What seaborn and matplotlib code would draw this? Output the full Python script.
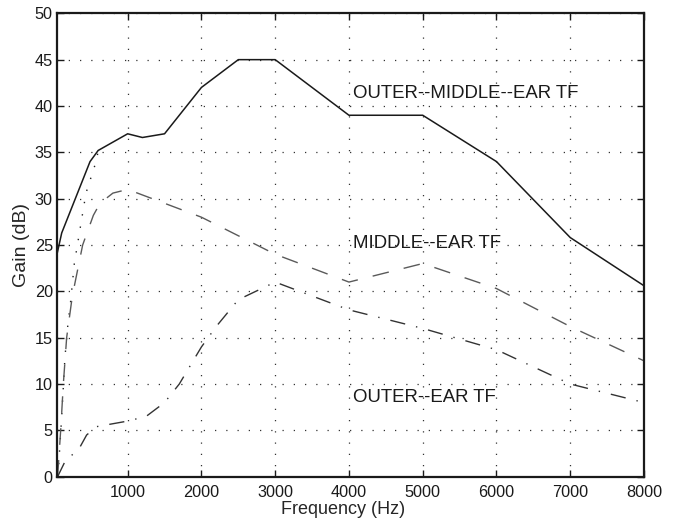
import pandas as pd
import seaborn as sns
import matplotlib.pyplot as plt

# outer + middle ear transfer function (solid)
freq_total = [42, 106, 490, 600, 1000, 1200, 1500, 2000, 2500, 3000, 4000, 5000, 6000, 7000, 8000]
gain_total = [24.0, 26.3, 34.0, 35.2, 37.0, 36.6, 37.0, 42.0, 45.0, 45.0, 39.0, 39.0, 34.0, 25.8, 20.6]

# middle ear TF (dashed)
freq_middle = [50, 92, 128, 173, 250, 390, 535, 625, 800, 1000, 2000, 3000, 4000, 5000, 6000, 7000, 8000]
gain_middle = [0.0, 5.0, 10.0, 15.0, 19.5, 25.0, 28.2, 29.5, 30.6, 31.0, 28.0, 24.0, 21.0, 23.0, 20.3, 16.2, 12.5]

# outer ear TF (dash-dot)
freq_outer = [50, 173, 241, 354, 444, 580, 1000, 1250, 1500, 1700, 2000, 2200, 2500, 3000, 4000, 5000, 6000, 7000, 8000]
gain_outer = [0.0, 2.0, 2.3, 3.2, 4.5, 5.4, 6.0, 6.5, 8.0, 10.0, 14.0, 16.2, 19.1, 21.0, 18.0, 16.0, 13.7, 10.0, 8.0]

# low-frequency sum (dotted)
freq_sum = [55, 106, 150, 195, 218, 277, 354, 435, 580, 600]
gain_sum = [0.0, 6.5, 12.9, 16.9, 18.2, 23.0, 26.7, 30.6, 34.2, 35.2]

labels = ["OUTER--MIDDLE--EAR TF", "MIDDLE--EAR TF", "OUTER--EAR TF"]
label_pos = [(4060, 41.4), (4060, 25.2), (4060, 8.5)]

xticks = [1000, 2000, 3000, 4000, 5000, 6000, 7000, 8000]
yticks = list(range(0, 51, 5))

sns.set_style("ticks")
plt.rcParams['font.family'] = ['Liberation Sans', 'DejaVu Sans']

fig = plt.figure(figsize=(6.76, 5.2), dpi=100)
ax = fig.add_axes([0.0843, 0.0833, 0.8684, 0.8911])

df_total = pd.DataFrame({"f": freq_total, "g": gain_total})
df_middle = pd.DataFrame({"f": freq_middle, "g": gain_middle})
df_outer = pd.DataFrame({"f": freq_outer, "g": gain_outer})
df_sum = pd.DataFrame({"f": freq_sum, "g": gain_sum})

sns.lineplot(data=df_sum, x="f", y="g", ax=ax, color="#222222", lw=1.0,
             linestyle=(0, (1, 8)), estimator=None)
sns.lineplot(data=df_middle, x="f", y="g", ax=ax, color="#5a5a5a", lw=1.0,
             linestyle=(0, (12, 11)), estimator=None)
sns.lineplot(data=df_outer, x="f", y="g", ax=ax, color="#333333", lw=1.0,
             linestyle=(0, (11, 8, 1, 8)), estimator=None)
sns.lineplot(data=df_total, x="f", y="g", ax=ax, color="#1a1a1a", lw=1.1,
             estimator=None)

for txt, (x, y) in zip(labels, label_pos):
    ax.text(x, y, txt, fontsize=13.4, va="center", ha="left", color="#1a1a1a")

ax.set_xlim(42, 8000)
ax.set_ylim(0, 50)
ax.set_xticks(xticks)
ax.set_yticks(yticks)
ax.grid(True, linestyle=(0, (1, 8)), color="#333333", linewidth=0.9)
ax.tick_params(direction="in", top=True, right=True, length=5, width=1,
               labelsize=11.7, colors="#1a1a1a")
ax.tick_params(axis="x", pad=6)
ax.tick_params(axis="y", pad=3)
for s in ax.spines.values():
    s.set_visible(True)
    s.set_linewidth(1.6)
    s.set_color("#1a1a1a")

ax.set_xlabel("Frequency (Hz)", fontsize=13)
ax.xaxis.set_label_coords(0.487, -0.053)
ax.set_ylabel("Gain (dB)", fontsize=14)
ax.yaxis.set_label_coords(-0.046, 0.5)

fig.savefig("out.png", dpi=100)
